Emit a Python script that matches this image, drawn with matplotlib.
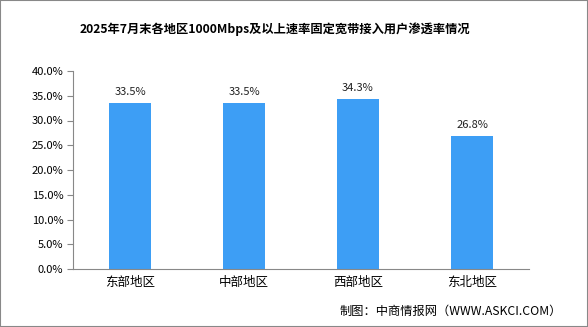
import matplotlib.pyplot as plt
from matplotlib.patches import Rectangle

plt.rcParams["font.family"] = ["Noto Sans CJK SC", "DejaVu Sans"]

regions = ["东部地区", "中部地区", "西部地区", "东北地区"]
rates = [33.5, 33.5, 34.3, 26.8]
yticks = [0, 5, 10, 15, 20, 25, 30, 35, 40]

fig = plt.figure(figsize=(5.88, 3.27), dpi=100)
ax = fig.add_axes([73 / 588, 1 - 269 / 327, 456 / 588, 198 / 327])

bars = ax.bar(range(len(regions)), rates, width=0.36, color="#3d9ef5")
for bar, v in zip(bars, rates):
    ax.text(bar.get_x() + bar.get_width() / 2, v + 1.3, f"{v:.1f}%",
            ha="center", va="bottom", fontsize=8, color="#222222")

ax.set_xlim(-0.5, len(regions) - 0.5)
ax.set_ylim(0, 40)
ax.set_yticks(yticks)
ax.set_yticklabels([f"{t:.1f}%" for t in yticks], fontsize=8)
ax.set_xticks(range(len(regions)))
ax.set_xticklabels(regions, fontsize=9)
ax.tick_params(axis="x", length=0, pad=5)
ax.tick_params(axis="y", length=4, color="#888888", pad=3)
for s in ["top", "right"]:
    ax.spines[s].set_visible(False)
for s in ["left", "bottom"]:
    ax.spines[s].set_color("#888888")

fig.text(275 / 588, 1 - 29 / 327, "2025年7月末各地区1000Mbps及以上速率固定宽带接入用户渗透率情况",
         ha="center", va="center", fontsize=8.8, fontweight="bold")
fig.text(562 / 588, 1 - 311 / 327, "制图：中商情报网（WWW.ASKCI.COM）",
         ha="right", va="center", fontsize=8.8)

fig.patches.append(Rectangle((0, 0), 1, 1, transform=fig.transFigure, fill=False,
                             edgecolor="#888888", linewidth=1.5))

fig.savefig("out.png", dpi=100)
